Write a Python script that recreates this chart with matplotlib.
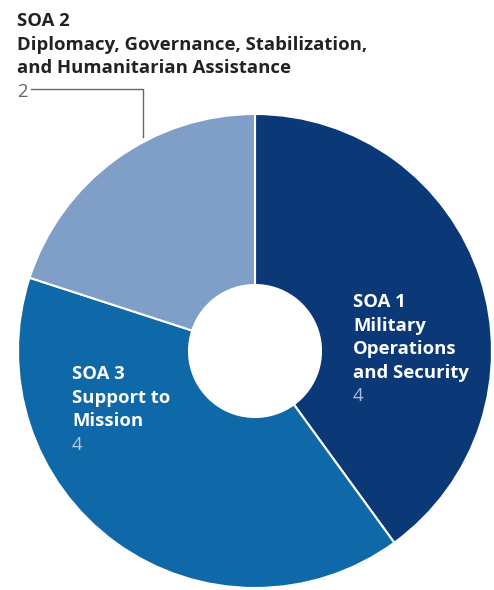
import matplotlib
matplotlib.use("Agg")
import matplotlib.pyplot as plt

# Data
categories = ["SOA 1", "SOA 3", "SOA 2"]
names = ["Military\nOperations\nand Security", "Support to\nMission",
         "Diplomacy, Governance, Stabilization,\nand Humanitarian Assistance"]
values = [4, 4, 2]
colors = ["#0b3978", "#0f68a7", "#7f9ec8"]

W, H = 494, 590
fig = plt.figure(figsize=(W / 100, H / 100), dpi=100)
ax = fig.add_axes([0, 0, 1, 1])

cx, cy = 255, H - 351
R = 237
hole = 66

ax.pie(values, colors=colors, startangle=90, counterclock=False,
       center=(cx, cy), radius=R,
       wedgeprops=dict(width=R - hole, edgecolor="white", linewidth=1.5))
ax.set_xlim(0, W)
ax.set_ylim(0, H)
ax.set_aspect("equal")
ax.axis("off")

fam = ["Open Sans", "DejaVu Sans"]
fs = 13.3
lh = 23.6


def block(x, b, head, name, val, hc, vc):
    ax.text(x, H - b, head, ha="left", va="baseline", color=hc,
            fontsize=fs, fontweight="bold", family=fam)
    lines = name.split("\n")
    for i, line in enumerate(lines):
        ax.text(x, H - (b + lh * (i + 1)), line, ha="left", va="baseline",
                color=hc, fontsize=fs, fontweight="bold", family=fam)
    ax.text(x, H - (b + lh * (len(lines) + 1)), str(val), ha="left",
            va="baseline", color=vc, fontsize=fs, family=fam)


block(353, 307, categories[0], names[0], values[0], "white", "#a9c0de")
block(72, 379, categories[1], names[1], values[1], "white", "#b5c9e2")
block(17, 26, categories[2], names[2], values[2], "#222222", "#666666")
ax.plot([31, 143, 143], [H - 89, H - 89, H - 137], color="#666666", lw=1.0)

fig.savefig("out.png", dpi=100)
